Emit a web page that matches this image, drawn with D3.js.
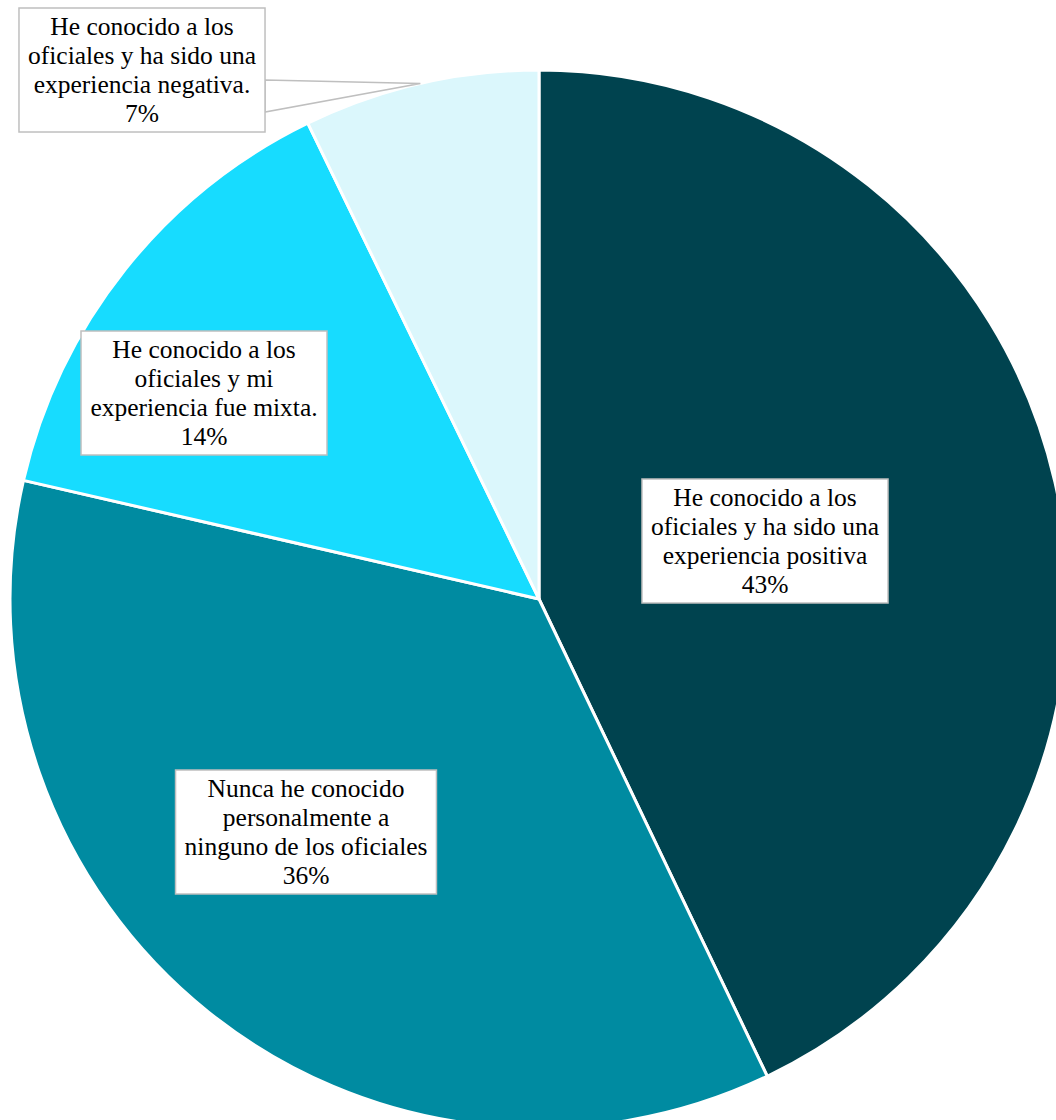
<!DOCTYPE html>
<html>
<head>
<meta charset="utf-8">
<script src="https://cdn.jsdelivr.net/npm/d3@7"></script>
<style>
  html, body { margin: 0; padding: 0; background: #fff; }
  svg { display: block; }
</style>
</head>
<body>
<svg></svg>
<script>
// slices, clockwise from 12 o'clock
const categories = [
  "He conocido a los oficiales y ha sido una experiencia positiva",
  "Nunca he conocido personalmente a ninguno de los oficiales",
  "He conocido a los oficiales y mi experiencia fue mixta.",
  "He conocido a los oficiales y ha sido una experiencia negativa."
]
const values = [42.9, 35.7, 14.2, 7.2]
const percentLabels = ["43%", "36%", "14%", "7%"]
const labelLines = [
  ["He conocido a los", "oficiales y ha sido una", "experiencia positiva"],
  ["Nunca he conocido", "personalmente a", "ninguno de los oficiales"],
  ["He conocido a los", "oficiales y mi", "experiencia fue mixta."],
  ["He conocido a los", "oficiales y ha sido una", "experiencia negativa."]
]
const colors = ["#00434f", "#008ba1", "#17dcff", "#dbf7fc"]

// label box centres relative to the pie centre
const labelOffsets = [[226, -58], [-233, 233], [-335, -206], [-397, -529]]

const width = 1056
const height = 1120
const cx = 539, cy = 599, radius = 529
const lineH = 29

const svg = d3.select("svg")
      .attr("width", width)
      .attr("height", height)

const pie = d3.pie().sort(null).value(d => d)
const arcs = pie(values)
const arc = d3.arc().innerRadius(0).outerRadius(radius)

const g = svg.append("g").attr("transform", `translate(${cx},${cy})`)

g.selectAll("path")
      .data(arcs)
      .join("path")
      .attr("d", arc)
      .attr("fill", (d, i) => colors[i])
      .attr("stroke", "#fff")
      .attr("stroke-width", 3)
      .attr("stroke-linejoin", "round")

const labels = g.append("g")
      .selectAll("g")
      .data(arcs)
      .join("g")
      .attr("transform", (d, i) => `translate(${labelOffsets[i][0]},${labelOffsets[i][1]})`)

labels.each(function (d, i) {
  const sel = d3.select(this)
  const lines = labelLines[i].concat([percentLabels[i]])
  const rect = sel.append("rect")
  const text = sel.append("text")
        .attr("text-anchor", "middle")
        .attr("font-family", "'Liberation Serif', 'Times New Roman', serif")
        .attr("font-size", 25.5)
        .attr("fill", "#000")
  text.selectAll("tspan")
        .data(lines)
        .join("tspan")
        .attr("x", 0)
        .attr("y", (l, j) => (j - (lines.length - 1) / 2) * lineH + 8)
        .text(l => l)
  const bb = text.node().getBBox()
  const w = Math.max(bb.width + 18, 246), h = lines.length * lineH + 8
  rect.attr("x", -w / 2).attr("y", -h / 2)
        .attr("width", w).attr("height", h)
        .attr("fill", "#fff")
        .attr("stroke", "#bfbfbf")
        .attr("stroke-width", 1.5)
  d.boxW = w
  d.boxH = h
})

// callout wedge for the small slice, tip on the rim
labels.filter((d, i) => i === 3)
      .insert("path", "rect")
      .attr("d", d => {
        const a = (d.startAngle + d.endAngle) / 2
        const tip = [Math.sin(a) * radius - labelOffsets[3][0], -Math.cos(a) * radius - labelOffsets[3][1]]
        const x0 = d.boxW / 2
        return `M${x0},${-d.boxH / 2 + 72}L${tip[0]},${tip[1]}L${x0},${-d.boxH / 2 + 104}Z`
      })
      .attr("fill", "#fff")
      .attr("stroke", "#bfbfbf")
      .attr("stroke-width", 1.5)
</script>
</body>
</html>
